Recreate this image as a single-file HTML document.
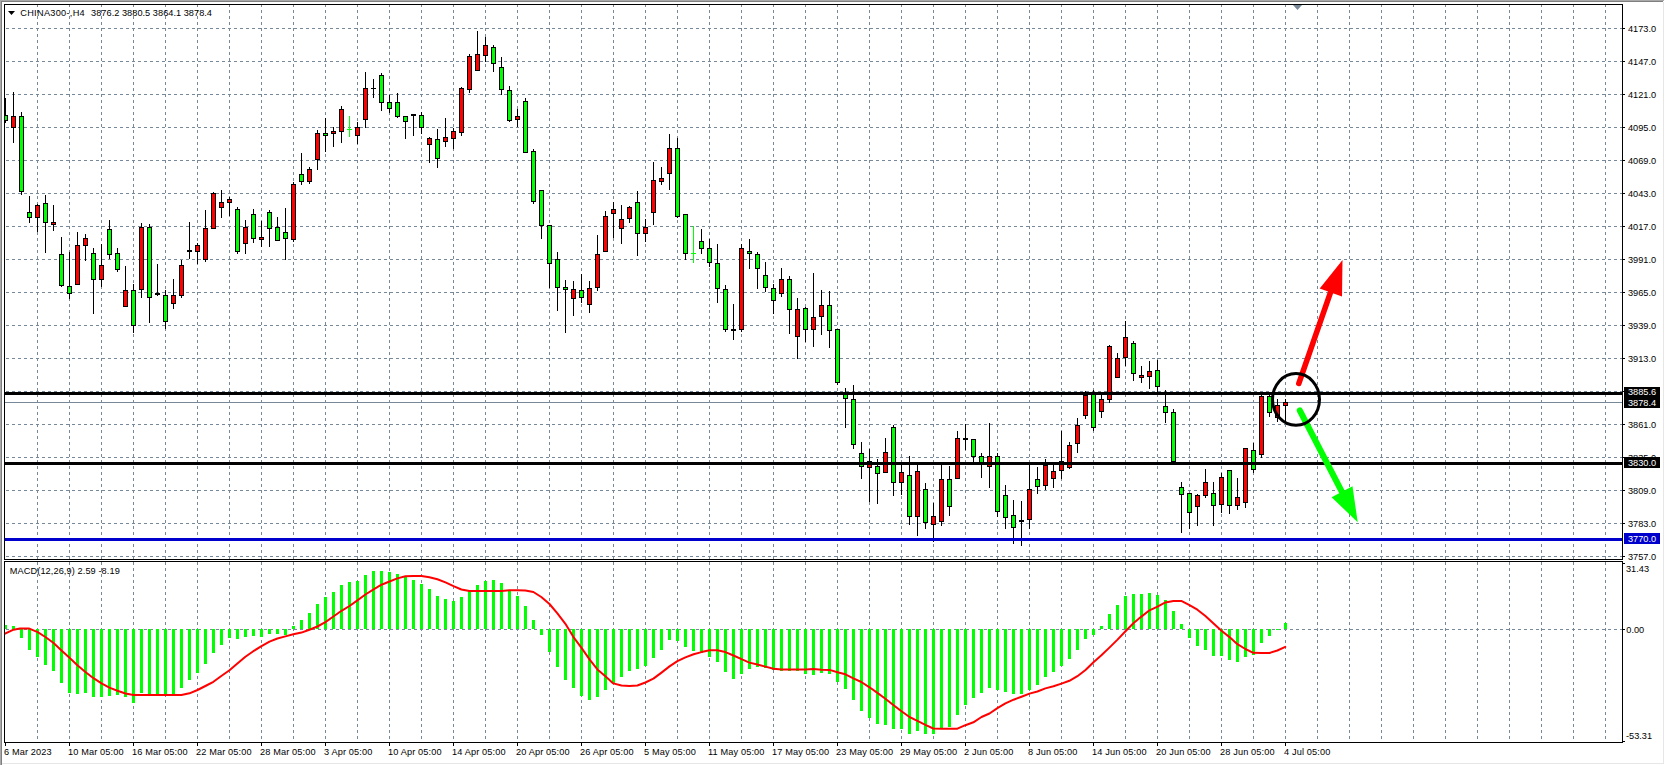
<!DOCTYPE html>
<html><head><meta charset="utf-8"><title>CHINA300 H4</title>
<style>html,body{margin:0;padding:0;background:#fff;}body{width:1665px;height:765px;overflow:hidden;}svg{display:block;font-family:"Liberation Sans",sans-serif;}text{font-family:"Liberation Sans",sans-serif;font-size:9.2px;fill:#000;}.w{fill:#fff;}</style>
</head><body>
<svg width="1665" height="765" viewBox="0 0 1665 765">
<rect x="0" y="0" width="1665" height="765" fill="#ffffff"/>
<g shape-rendering="crispEdges">
<rect x="0" y="0" width="1664" height="1" fill="#a9a9a9"/>
<rect x="0" y="1" width="1663" height="1" fill="#7f7f7f"/>
<rect x="0" y="0" width="1" height="765" fill="#a9a9a9"/>
<rect x="1" y="1" width="1" height="765" fill="#7f7f7f"/>
<rect x="1663" y="2" width="1" height="762" fill="#e6e6e6"/>
<rect x="2" y="763" width="1662" height="1" fill="#e6e6e6"/>
<g stroke="#778899" stroke-width="1" fill="none">
<line x1="37.5" y1="4" x2="37.5" y2="559" stroke-dasharray="3 3"/>
<line x1="37.5" y1="562" x2="37.5" y2="742" stroke-dasharray="3 3" stroke-dashoffset="0"/>
<line x1="69.5" y1="4" x2="69.5" y2="559" stroke-dasharray="3 3"/>
<line x1="69.5" y1="562" x2="69.5" y2="742" stroke-dasharray="3 3" stroke-dashoffset="0"/>
<line x1="101.5" y1="4" x2="101.5" y2="559" stroke-dasharray="3 3"/>
<line x1="101.5" y1="562" x2="101.5" y2="742" stroke-dasharray="3 3" stroke-dashoffset="0"/>
<line x1="133.5" y1="4" x2="133.5" y2="559" stroke-dasharray="3 3"/>
<line x1="133.5" y1="562" x2="133.5" y2="742" stroke-dasharray="3 3" stroke-dashoffset="0"/>
<line x1="165.5" y1="4" x2="165.5" y2="559" stroke-dasharray="3 3"/>
<line x1="165.5" y1="562" x2="165.5" y2="742" stroke-dasharray="3 3" stroke-dashoffset="0"/>
<line x1="197.5" y1="4" x2="197.5" y2="559" stroke-dasharray="3 3"/>
<line x1="197.5" y1="562" x2="197.5" y2="742" stroke-dasharray="3 3" stroke-dashoffset="0"/>
<line x1="229.5" y1="4" x2="229.5" y2="559" stroke-dasharray="3 3"/>
<line x1="229.5" y1="562" x2="229.5" y2="742" stroke-dasharray="3 3" stroke-dashoffset="0"/>
<line x1="261.5" y1="4" x2="261.5" y2="559" stroke-dasharray="3 3"/>
<line x1="261.5" y1="562" x2="261.5" y2="742" stroke-dasharray="3 3" stroke-dashoffset="0"/>
<line x1="293.5" y1="4" x2="293.5" y2="559" stroke-dasharray="3 3"/>
<line x1="293.5" y1="562" x2="293.5" y2="742" stroke-dasharray="3 3" stroke-dashoffset="0"/>
<line x1="325.5" y1="4" x2="325.5" y2="559" stroke-dasharray="3 3"/>
<line x1="325.5" y1="562" x2="325.5" y2="742" stroke-dasharray="3 3" stroke-dashoffset="0"/>
<line x1="357.5" y1="4" x2="357.5" y2="559" stroke-dasharray="3 3"/>
<line x1="357.5" y1="562" x2="357.5" y2="742" stroke-dasharray="3 3" stroke-dashoffset="0"/>
<line x1="389.5" y1="4" x2="389.5" y2="559" stroke-dasharray="3 3"/>
<line x1="389.5" y1="562" x2="389.5" y2="742" stroke-dasharray="3 3" stroke-dashoffset="0"/>
<line x1="421.5" y1="4" x2="421.5" y2="559" stroke-dasharray="3 3"/>
<line x1="421.5" y1="562" x2="421.5" y2="742" stroke-dasharray="3 3" stroke-dashoffset="0"/>
<line x1="453.5" y1="4" x2="453.5" y2="559" stroke-dasharray="3 3"/>
<line x1="453.5" y1="562" x2="453.5" y2="742" stroke-dasharray="3 3" stroke-dashoffset="0"/>
<line x1="485.5" y1="4" x2="485.5" y2="559" stroke-dasharray="3 3"/>
<line x1="485.5" y1="562" x2="485.5" y2="742" stroke-dasharray="3 3" stroke-dashoffset="0"/>
<line x1="517.5" y1="4" x2="517.5" y2="559" stroke-dasharray="3 3"/>
<line x1="517.5" y1="562" x2="517.5" y2="742" stroke-dasharray="3 3" stroke-dashoffset="0"/>
<line x1="549.5" y1="4" x2="549.5" y2="559" stroke-dasharray="3 3"/>
<line x1="549.5" y1="562" x2="549.5" y2="742" stroke-dasharray="3 3" stroke-dashoffset="0"/>
<line x1="581.5" y1="4" x2="581.5" y2="559" stroke-dasharray="3 3"/>
<line x1="581.5" y1="562" x2="581.5" y2="742" stroke-dasharray="3 3" stroke-dashoffset="0"/>
<line x1="613.5" y1="4" x2="613.5" y2="559" stroke-dasharray="3 3"/>
<line x1="613.5" y1="562" x2="613.5" y2="742" stroke-dasharray="3 3" stroke-dashoffset="0"/>
<line x1="645.5" y1="4" x2="645.5" y2="559" stroke-dasharray="3 3"/>
<line x1="645.5" y1="562" x2="645.5" y2="742" stroke-dasharray="3 3" stroke-dashoffset="0"/>
<line x1="677.5" y1="4" x2="677.5" y2="559" stroke-dasharray="3 3"/>
<line x1="677.5" y1="562" x2="677.5" y2="742" stroke-dasharray="3 3" stroke-dashoffset="0"/>
<line x1="709.5" y1="4" x2="709.5" y2="559" stroke-dasharray="3 3"/>
<line x1="709.5" y1="562" x2="709.5" y2="742" stroke-dasharray="3 3" stroke-dashoffset="0"/>
<line x1="741.5" y1="4" x2="741.5" y2="559" stroke-dasharray="3 3"/>
<line x1="741.5" y1="562" x2="741.5" y2="742" stroke-dasharray="3 3" stroke-dashoffset="0"/>
<line x1="773.5" y1="4" x2="773.5" y2="559" stroke-dasharray="3 3"/>
<line x1="773.5" y1="562" x2="773.5" y2="742" stroke-dasharray="3 3" stroke-dashoffset="0"/>
<line x1="805.5" y1="4" x2="805.5" y2="559" stroke-dasharray="3 3"/>
<line x1="805.5" y1="562" x2="805.5" y2="742" stroke-dasharray="3 3" stroke-dashoffset="0"/>
<line x1="837.5" y1="4" x2="837.5" y2="559" stroke-dasharray="3 3"/>
<line x1="837.5" y1="562" x2="837.5" y2="742" stroke-dasharray="3 3" stroke-dashoffset="0"/>
<line x1="869.5" y1="4" x2="869.5" y2="559" stroke-dasharray="3 3"/>
<line x1="869.5" y1="562" x2="869.5" y2="742" stroke-dasharray="3 3" stroke-dashoffset="0"/>
<line x1="901.5" y1="4" x2="901.5" y2="559" stroke-dasharray="3 3"/>
<line x1="901.5" y1="562" x2="901.5" y2="742" stroke-dasharray="3 3" stroke-dashoffset="0"/>
<line x1="933.5" y1="4" x2="933.5" y2="559" stroke-dasharray="3 3"/>
<line x1="933.5" y1="562" x2="933.5" y2="742" stroke-dasharray="3 3" stroke-dashoffset="0"/>
<line x1="965.5" y1="4" x2="965.5" y2="559" stroke-dasharray="3 3"/>
<line x1="965.5" y1="562" x2="965.5" y2="742" stroke-dasharray="3 3" stroke-dashoffset="0"/>
<line x1="997.5" y1="4" x2="997.5" y2="559" stroke-dasharray="3 3"/>
<line x1="997.5" y1="562" x2="997.5" y2="742" stroke-dasharray="3 3" stroke-dashoffset="0"/>
<line x1="1029.5" y1="4" x2="1029.5" y2="559" stroke-dasharray="3 3"/>
<line x1="1029.5" y1="562" x2="1029.5" y2="742" stroke-dasharray="3 3" stroke-dashoffset="0"/>
<line x1="1061.5" y1="4" x2="1061.5" y2="559" stroke-dasharray="3 3"/>
<line x1="1061.5" y1="562" x2="1061.5" y2="742" stroke-dasharray="3 3" stroke-dashoffset="0"/>
<line x1="1093.5" y1="4" x2="1093.5" y2="559" stroke-dasharray="3 3"/>
<line x1="1093.5" y1="562" x2="1093.5" y2="742" stroke-dasharray="3 3" stroke-dashoffset="0"/>
<line x1="1125.5" y1="4" x2="1125.5" y2="559" stroke-dasharray="3 3"/>
<line x1="1125.5" y1="562" x2="1125.5" y2="742" stroke-dasharray="3 3" stroke-dashoffset="0"/>
<line x1="1157.5" y1="4" x2="1157.5" y2="559" stroke-dasharray="3 3"/>
<line x1="1157.5" y1="562" x2="1157.5" y2="742" stroke-dasharray="3 3" stroke-dashoffset="0"/>
<line x1="1189.5" y1="4" x2="1189.5" y2="559" stroke-dasharray="3 3"/>
<line x1="1189.5" y1="562" x2="1189.5" y2="742" stroke-dasharray="3 3" stroke-dashoffset="0"/>
<line x1="1221.5" y1="4" x2="1221.5" y2="559" stroke-dasharray="3 3"/>
<line x1="1221.5" y1="562" x2="1221.5" y2="742" stroke-dasharray="3 3" stroke-dashoffset="0"/>
<line x1="1253.5" y1="4" x2="1253.5" y2="559" stroke-dasharray="3 3"/>
<line x1="1253.5" y1="562" x2="1253.5" y2="742" stroke-dasharray="3 3" stroke-dashoffset="0"/>
<line x1="1285.5" y1="4" x2="1285.5" y2="559" stroke-dasharray="3 3"/>
<line x1="1285.5" y1="562" x2="1285.5" y2="742" stroke-dasharray="3 3" stroke-dashoffset="0"/>
<line x1="1317.5" y1="4" x2="1317.5" y2="559" stroke-dasharray="3 3"/>
<line x1="1317.5" y1="562" x2="1317.5" y2="742" stroke-dasharray="3 3" stroke-dashoffset="0"/>
<line x1="1349.5" y1="4" x2="1349.5" y2="559" stroke-dasharray="3 3"/>
<line x1="1349.5" y1="562" x2="1349.5" y2="742" stroke-dasharray="3 3" stroke-dashoffset="0"/>
<line x1="1381.5" y1="4" x2="1381.5" y2="559" stroke-dasharray="3 3"/>
<line x1="1381.5" y1="562" x2="1381.5" y2="742" stroke-dasharray="3 3" stroke-dashoffset="0"/>
<line x1="1413.5" y1="4" x2="1413.5" y2="559" stroke-dasharray="3 3"/>
<line x1="1413.5" y1="562" x2="1413.5" y2="742" stroke-dasharray="3 3" stroke-dashoffset="0"/>
<line x1="1445.5" y1="4" x2="1445.5" y2="559" stroke-dasharray="3 3"/>
<line x1="1445.5" y1="562" x2="1445.5" y2="742" stroke-dasharray="3 3" stroke-dashoffset="0"/>
<line x1="1477.5" y1="4" x2="1477.5" y2="559" stroke-dasharray="3 3"/>
<line x1="1477.5" y1="562" x2="1477.5" y2="742" stroke-dasharray="3 3" stroke-dashoffset="0"/>
<line x1="1509.5" y1="4" x2="1509.5" y2="559" stroke-dasharray="3 3"/>
<line x1="1509.5" y1="562" x2="1509.5" y2="742" stroke-dasharray="3 3" stroke-dashoffset="0"/>
<line x1="1541.5" y1="4" x2="1541.5" y2="559" stroke-dasharray="3 3"/>
<line x1="1541.5" y1="562" x2="1541.5" y2="742" stroke-dasharray="3 3" stroke-dashoffset="0"/>
<line x1="1573.5" y1="4" x2="1573.5" y2="559" stroke-dasharray="3 3"/>
<line x1="1573.5" y1="562" x2="1573.5" y2="742" stroke-dasharray="3 3" stroke-dashoffset="0"/>
<line x1="1605.5" y1="4" x2="1605.5" y2="559" stroke-dasharray="3 3"/>
<line x1="1605.5" y1="562" x2="1605.5" y2="742" stroke-dasharray="3 3" stroke-dashoffset="0"/>
<line x1="6" y1="28.5" x2="1622" y2="28.5" stroke-dasharray="3 3"/>
<line x1="6" y1="61.5" x2="1622" y2="61.5" stroke-dasharray="3 3"/>
<line x1="6" y1="94.5" x2="1622" y2="94.5" stroke-dasharray="3 3"/>
<line x1="6" y1="127.5" x2="1622" y2="127.5" stroke-dasharray="3 3"/>
<line x1="6" y1="160.5" x2="1622" y2="160.5" stroke-dasharray="3 3"/>
<line x1="6" y1="193.5" x2="1622" y2="193.5" stroke-dasharray="3 3"/>
<line x1="6" y1="226.5" x2="1622" y2="226.5" stroke-dasharray="3 3"/>
<line x1="6" y1="259.5" x2="1622" y2="259.5" stroke-dasharray="3 3"/>
<line x1="6" y1="292.5" x2="1622" y2="292.5" stroke-dasharray="3 3"/>
<line x1="6" y1="325.5" x2="1622" y2="325.5" stroke-dasharray="3 3"/>
<line x1="6" y1="358.5" x2="1622" y2="358.5" stroke-dasharray="3 3"/>
<line x1="6" y1="391.5" x2="1622" y2="391.5" stroke-dasharray="3 3"/>
<line x1="6" y1="424.5" x2="1622" y2="424.5" stroke-dasharray="3 3"/>
<line x1="6" y1="457.5" x2="1622" y2="457.5" stroke-dasharray="3 3"/>
<line x1="6" y1="490.5" x2="1622" y2="490.5" stroke-dasharray="3 3"/>
<line x1="6" y1="523.5" x2="1622" y2="523.5" stroke-dasharray="3 3"/>
<line x1="6" y1="556.5" x2="1622" y2="556.5" stroke-dasharray="3 3"/>
<line x1="6" y1="629.5" x2="1622" y2="629.5" stroke-dasharray="3 3"/>
</g>
<rect x="5" y="402" width="1617" height="1" fill="#778899"/>
<rect x="4" y="4" width="1619" height="1" fill="#000"/>
<rect x="4" y="4" width="1" height="739" fill="#000"/>
<rect x="1622" y="4" width="1" height="739" fill="#000"/>
<rect x="4" y="559" width="1619" height="1" fill="#000"/>
<rect x="4" y="561" width="1619" height="1" fill="#000"/>
<rect x="4" y="560" width="1619" height="1" fill="#fff"/>
<rect x="4" y="742" width="1619" height="1" fill="#000"/>
<rect x="1623" y="28" width="2" height="1" fill="#000"/>
<rect x="1623" y="61" width="2" height="1" fill="#000"/>
<rect x="1623" y="94" width="2" height="1" fill="#000"/>
<rect x="1623" y="127" width="2" height="1" fill="#000"/>
<rect x="1623" y="160" width="2" height="1" fill="#000"/>
<rect x="1623" y="193" width="2" height="1" fill="#000"/>
<rect x="1623" y="226" width="2" height="1" fill="#000"/>
<rect x="1623" y="259" width="2" height="1" fill="#000"/>
<rect x="1623" y="292" width="2" height="1" fill="#000"/>
<rect x="1623" y="325" width="2" height="1" fill="#000"/>
<rect x="1623" y="358" width="2" height="1" fill="#000"/>
<rect x="1623" y="391" width="2" height="1" fill="#000"/>
<rect x="1623" y="424" width="2" height="1" fill="#000"/>
<rect x="1623" y="457" width="2" height="1" fill="#000"/>
<rect x="1623" y="490" width="2" height="1" fill="#000"/>
<rect x="1623" y="523" width="2" height="1" fill="#000"/>
<rect x="1623" y="556" width="2" height="1" fill="#000"/>
<rect x="1623" y="563" width="2" height="1" fill="#000"/>
<rect x="1623" y="629" width="2" height="1" fill="#000"/>
<rect x="1623" y="741" width="2" height="1" fill="#000"/>
<rect x="5" y="743" width="1" height="3" fill="#000"/>
<rect x="69" y="743" width="1" height="3" fill="#000"/>
<rect x="133" y="743" width="1" height="3" fill="#000"/>
<rect x="197" y="743" width="1" height="3" fill="#000"/>
<rect x="261" y="743" width="1" height="3" fill="#000"/>
<rect x="325" y="743" width="1" height="3" fill="#000"/>
<rect x="389" y="743" width="1" height="3" fill="#000"/>
<rect x="453" y="743" width="1" height="3" fill="#000"/>
<rect x="517" y="743" width="1" height="3" fill="#000"/>
<rect x="581" y="743" width="1" height="3" fill="#000"/>
<rect x="645" y="743" width="1" height="3" fill="#000"/>
<rect x="709" y="743" width="1" height="3" fill="#000"/>
<rect x="773" y="743" width="1" height="3" fill="#000"/>
<rect x="837" y="743" width="1" height="3" fill="#000"/>
<rect x="901" y="743" width="1" height="3" fill="#000"/>
<rect x="965" y="743" width="1" height="3" fill="#000"/>
<rect x="1029" y="743" width="1" height="3" fill="#000"/>
<rect x="1093" y="743" width="1" height="3" fill="#000"/>
<rect x="1157" y="743" width="1" height="3" fill="#000"/>
<rect x="1221" y="743" width="1" height="3" fill="#000"/>
<rect x="1285" y="743" width="1" height="3" fill="#000"/>
<polygon points="1293,5 1302,5 1297.5,10" fill="#778899" shape-rendering="auto"/>
</g>
<defs><clipPath id="c"><rect x="5" y="5" width="1617" height="554"/></clipPath><clipPath id="m"><rect x="5" y="562" width="1617" height="180"/></clipPath></defs>
<g clip-path="url(#c)" shape-rendering="crispEdges">
<rect x="5" y="98" width="1" height="25" fill="#000"/>
<rect x="3" y="115" width="5" height="6" fill="#000"/>
<rect x="4" y="116" width="3" height="4" fill="#00ff00"/>
<rect x="13" y="92" width="1" height="51" fill="#000"/>
<rect x="11" y="116" width="5" height="12" fill="#000"/>
<rect x="12" y="117" width="3" height="10" fill="#ff0000"/>
<rect x="21" y="112" width="1" height="83" fill="#000"/>
<rect x="19" y="116" width="5" height="76" fill="#000"/>
<rect x="20" y="117" width="3" height="74" fill="#00ff00"/>
<rect x="29" y="196" width="1" height="27" fill="#000"/>
<rect x="27" y="212" width="5" height="6" fill="#000"/>
<rect x="28" y="213" width="3" height="4" fill="#00ff00"/>
<rect x="37" y="204" width="1" height="28" fill="#000"/>
<rect x="35" y="205" width="5" height="13" fill="#000"/>
<rect x="36" y="206" width="3" height="11" fill="#ff0000"/>
<rect x="45" y="195" width="1" height="58" fill="#000"/>
<rect x="43" y="203" width="5" height="20" fill="#000"/>
<rect x="44" y="204" width="3" height="18" fill="#00ff00"/>
<rect x="53" y="205" width="1" height="26" fill="#000"/>
<rect x="51" y="222" width="5" height="3" fill="#000"/>
<rect x="52" y="223" width="3" height="1" fill="#ff0000"/>
<rect x="61" y="237" width="1" height="50" fill="#000"/>
<rect x="59" y="254" width="5" height="32" fill="#000"/>
<rect x="60" y="255" width="3" height="30" fill="#00ff00"/>
<rect x="69" y="252" width="1" height="47" fill="#000"/>
<rect x="67" y="286" width="5" height="8" fill="#000"/>
<rect x="68" y="287" width="3" height="6" fill="#00ff00"/>
<rect x="77" y="232" width="1" height="53" fill="#000"/>
<rect x="75" y="245" width="5" height="40" fill="#000"/>
<rect x="76" y="246" width="3" height="38" fill="#ff0000"/>
<rect x="85" y="234" width="1" height="27" fill="#000"/>
<rect x="83" y="238" width="5" height="8" fill="#000"/>
<rect x="84" y="239" width="3" height="6" fill="#ff0000"/>
<rect x="93" y="248" width="1" height="66" fill="#000"/>
<rect x="91" y="253" width="5" height="27" fill="#000"/>
<rect x="92" y="254" width="3" height="25" fill="#00ff00"/>
<rect x="101" y="244" width="1" height="43" fill="#000"/>
<rect x="99" y="265" width="5" height="15" fill="#000"/>
<rect x="100" y="266" width="3" height="13" fill="#ff0000"/>
<rect x="109" y="220" width="1" height="39" fill="#000"/>
<rect x="107" y="229" width="5" height="26" fill="#000"/>
<rect x="108" y="230" width="3" height="24" fill="#00ff00"/>
<rect x="117" y="248" width="1" height="24" fill="#000"/>
<rect x="115" y="253" width="5" height="17" fill="#000"/>
<rect x="116" y="254" width="3" height="15" fill="#00ff00"/>
<rect x="125" y="266" width="1" height="41" fill="#000"/>
<rect x="123" y="290" width="5" height="17" fill="#000"/>
<rect x="124" y="291" width="3" height="15" fill="#ff0000"/>
<rect x="133" y="284" width="1" height="49" fill="#000"/>
<rect x="131" y="290" width="5" height="36" fill="#000"/>
<rect x="132" y="291" width="3" height="34" fill="#00ff00"/>
<rect x="141" y="223" width="1" height="75" fill="#000"/>
<rect x="139" y="227" width="5" height="63" fill="#000"/>
<rect x="140" y="228" width="3" height="61" fill="#ff0000"/>
<rect x="149" y="224" width="1" height="99" fill="#000"/>
<rect x="147" y="227" width="5" height="71" fill="#000"/>
<rect x="148" y="228" width="3" height="69" fill="#00ff00"/>
<rect x="157" y="264" width="1" height="32" fill="#000"/>
<rect x="155" y="293" width="5" height="2" fill="#000"/>
<rect x="165" y="290" width="1" height="39" fill="#000"/>
<rect x="163" y="295" width="5" height="27" fill="#000"/>
<rect x="164" y="296" width="3" height="25" fill="#00ff00"/>
<rect x="173" y="279" width="1" height="30" fill="#000"/>
<rect x="171" y="295" width="5" height="9" fill="#000"/>
<rect x="172" y="296" width="3" height="7" fill="#ff0000"/>
<rect x="181" y="260" width="1" height="38" fill="#000"/>
<rect x="179" y="265" width="5" height="31" fill="#000"/>
<rect x="180" y="266" width="3" height="29" fill="#ff0000"/>
<rect x="189" y="222" width="1" height="37" fill="#000"/>
<rect x="187" y="250" width="5" height="2" fill="#000"/>
<rect x="197" y="243" width="1" height="21" fill="#000"/>
<rect x="195" y="245" width="5" height="7" fill="#000"/>
<rect x="196" y="246" width="3" height="5" fill="#ff0000"/>
<rect x="205" y="210" width="1" height="52" fill="#000"/>
<rect x="203" y="228" width="5" height="32" fill="#000"/>
<rect x="204" y="229" width="3" height="30" fill="#ff0000"/>
<rect x="213" y="192" width="1" height="37" fill="#000"/>
<rect x="211" y="193" width="5" height="36" fill="#000"/>
<rect x="212" y="194" width="3" height="34" fill="#ff0000"/>
<rect x="221" y="190" width="1" height="28" fill="#000"/>
<rect x="219" y="202" width="5" height="6" fill="#000"/>
<rect x="220" y="203" width="3" height="4" fill="#ff0000"/>
<rect x="229" y="197" width="1" height="19" fill="#000"/>
<rect x="227" y="199" width="5" height="4" fill="#000"/>
<rect x="228" y="200" width="3" height="2" fill="#ff0000"/>
<rect x="237" y="207" width="1" height="47" fill="#000"/>
<rect x="235" y="209" width="5" height="43" fill="#000"/>
<rect x="236" y="210" width="3" height="41" fill="#00ff00"/>
<rect x="245" y="220" width="1" height="34" fill="#000"/>
<rect x="243" y="227" width="5" height="17" fill="#000"/>
<rect x="244" y="228" width="3" height="15" fill="#ff0000"/>
<rect x="253" y="209" width="1" height="34" fill="#000"/>
<rect x="251" y="214" width="5" height="25" fill="#000"/>
<rect x="252" y="215" width="3" height="23" fill="#00ff00"/>
<rect x="261" y="221" width="1" height="26" fill="#000"/>
<rect x="259" y="237" width="5" height="3" fill="#000"/>
<rect x="260" y="238" width="3" height="1" fill="#ff0000"/>
<rect x="269" y="210" width="1" height="37" fill="#000"/>
<rect x="267" y="212" width="5" height="17" fill="#000"/>
<rect x="268" y="213" width="3" height="15" fill="#00ff00"/>
<rect x="277" y="217" width="1" height="24" fill="#000"/>
<rect x="275" y="227" width="5" height="14" fill="#000"/>
<rect x="276" y="228" width="3" height="12" fill="#00ff00"/>
<rect x="285" y="208" width="1" height="52" fill="#000"/>
<rect x="283" y="232" width="5" height="7" fill="#000"/>
<rect x="284" y="233" width="3" height="5" fill="#00ff00"/>
<rect x="293" y="182" width="1" height="60" fill="#000"/>
<rect x="291" y="184" width="5" height="56" fill="#000"/>
<rect x="292" y="185" width="3" height="54" fill="#ff0000"/>
<rect x="301" y="153" width="1" height="32" fill="#000"/>
<rect x="299" y="174" width="5" height="8" fill="#000"/>
<rect x="300" y="175" width="3" height="6" fill="#00ff00"/>
<rect x="309" y="167" width="1" height="17" fill="#000"/>
<rect x="307" y="169" width="5" height="13" fill="#000"/>
<rect x="308" y="170" width="3" height="11" fill="#ff0000"/>
<rect x="317" y="130" width="1" height="40" fill="#000"/>
<rect x="315" y="133" width="5" height="27" fill="#000"/>
<rect x="316" y="134" width="3" height="25" fill="#ff0000"/>
<rect x="325" y="118" width="1" height="34" fill="#000"/>
<rect x="323" y="133" width="5" height="3" fill="#000"/>
<rect x="324" y="134" width="3" height="1" fill="#00ff00"/>
<rect x="333" y="127" width="1" height="20" fill="#000"/>
<rect x="331" y="131" width="5" height="3" fill="#000"/>
<rect x="332" y="132" width="3" height="1" fill="#ff0000"/>
<rect x="341" y="106" width="1" height="37" fill="#000"/>
<rect x="339" y="109" width="5" height="23" fill="#000"/>
<rect x="340" y="110" width="3" height="21" fill="#ff0000"/>
<rect x="349" y="116" width="1" height="21" fill="#00ff00"/>
<rect x="347" y="129" width="5" height="1" fill="#00ff00"/>
<rect x="357" y="122" width="1" height="22" fill="#000"/>
<rect x="355" y="127" width="5" height="9" fill="#000"/>
<rect x="356" y="128" width="3" height="7" fill="#ff0000"/>
<rect x="365" y="72" width="1" height="56" fill="#000"/>
<rect x="363" y="88" width="5" height="32" fill="#000"/>
<rect x="364" y="89" width="3" height="30" fill="#ff0000"/>
<rect x="373" y="79" width="1" height="19" fill="#000"/>
<rect x="371" y="88" width="5" height="1" fill="#000"/>
<rect x="381" y="73" width="1" height="38" fill="#000"/>
<rect x="379" y="75" width="5" height="28" fill="#000"/>
<rect x="380" y="76" width="3" height="26" fill="#00ff00"/>
<rect x="389" y="95" width="1" height="18" fill="#000"/>
<rect x="387" y="102" width="5" height="7" fill="#000"/>
<rect x="388" y="103" width="3" height="5" fill="#00ff00"/>
<rect x="397" y="93" width="1" height="25" fill="#000"/>
<rect x="395" y="102" width="5" height="15" fill="#000"/>
<rect x="396" y="103" width="3" height="13" fill="#00ff00"/>
<rect x="405" y="116" width="1" height="23" fill="#000"/>
<rect x="403" y="116" width="5" height="6" fill="#000"/>
<rect x="404" y="117" width="3" height="4" fill="#00ff00"/>
<rect x="413" y="114" width="1" height="22" fill="#000"/>
<rect x="411" y="114" width="5" height="2" fill="#000"/>
<rect x="421" y="112" width="1" height="22" fill="#000"/>
<rect x="419" y="115" width="5" height="13" fill="#000"/>
<rect x="420" y="116" width="3" height="11" fill="#00ff00"/>
<rect x="429" y="137" width="1" height="26" fill="#000"/>
<rect x="427" y="138" width="5" height="7" fill="#000"/>
<rect x="428" y="139" width="3" height="5" fill="#ff0000"/>
<rect x="437" y="129" width="1" height="39" fill="#000"/>
<rect x="435" y="139" width="5" height="20" fill="#000"/>
<rect x="436" y="140" width="3" height="18" fill="#00ff00"/>
<rect x="445" y="118" width="1" height="29" fill="#000"/>
<rect x="443" y="137" width="5" height="5" fill="#000"/>
<rect x="444" y="138" width="3" height="3" fill="#ff0000"/>
<rect x="453" y="128" width="1" height="21" fill="#000"/>
<rect x="451" y="131" width="5" height="8" fill="#000"/>
<rect x="452" y="132" width="3" height="6" fill="#ff0000"/>
<rect x="461" y="87" width="1" height="49" fill="#000"/>
<rect x="459" y="88" width="5" height="45" fill="#000"/>
<rect x="460" y="89" width="3" height="43" fill="#ff0000"/>
<rect x="469" y="54" width="1" height="39" fill="#000"/>
<rect x="467" y="56" width="5" height="34" fill="#000"/>
<rect x="468" y="57" width="3" height="32" fill="#ff0000"/>
<rect x="477" y="31" width="1" height="40" fill="#000"/>
<rect x="475" y="54" width="5" height="17" fill="#000"/>
<rect x="476" y="55" width="3" height="15" fill="#ff0000"/>
<rect x="485" y="37" width="1" height="25" fill="#000"/>
<rect x="483" y="45" width="5" height="11" fill="#000"/>
<rect x="484" y="46" width="3" height="9" fill="#ff0000"/>
<rect x="493" y="45" width="1" height="27" fill="#000"/>
<rect x="491" y="47" width="5" height="17" fill="#000"/>
<rect x="492" y="48" width="3" height="15" fill="#00ff00"/>
<rect x="501" y="57" width="1" height="38" fill="#000"/>
<rect x="499" y="67" width="5" height="23" fill="#000"/>
<rect x="500" y="68" width="3" height="21" fill="#00ff00"/>
<rect x="509" y="86" width="1" height="36" fill="#000"/>
<rect x="507" y="90" width="5" height="31" fill="#000"/>
<rect x="508" y="91" width="3" height="29" fill="#00ff00"/>
<rect x="517" y="109" width="1" height="18" fill="#000"/>
<rect x="515" y="116" width="5" height="4" fill="#000"/>
<rect x="516" y="117" width="3" height="2" fill="#ff0000"/>
<rect x="525" y="98" width="1" height="55" fill="#000"/>
<rect x="523" y="101" width="5" height="52" fill="#000"/>
<rect x="524" y="102" width="3" height="50" fill="#00ff00"/>
<rect x="533" y="149" width="1" height="55" fill="#000"/>
<rect x="531" y="151" width="5" height="51" fill="#000"/>
<rect x="532" y="152" width="3" height="49" fill="#00ff00"/>
<rect x="541" y="190" width="1" height="49" fill="#000"/>
<rect x="539" y="190" width="5" height="36" fill="#000"/>
<rect x="540" y="191" width="3" height="34" fill="#00ff00"/>
<rect x="549" y="225" width="1" height="63" fill="#000"/>
<rect x="547" y="225" width="5" height="39" fill="#000"/>
<rect x="548" y="226" width="3" height="37" fill="#00ff00"/>
<rect x="557" y="252" width="1" height="59" fill="#000"/>
<rect x="555" y="259" width="5" height="29" fill="#000"/>
<rect x="556" y="260" width="3" height="27" fill="#00ff00"/>
<rect x="565" y="280" width="1" height="53" fill="#000"/>
<rect x="563" y="287" width="5" height="3" fill="#000"/>
<rect x="564" y="288" width="3" height="1" fill="#00ff00"/>
<rect x="573" y="281" width="1" height="35" fill="#000"/>
<rect x="571" y="289" width="5" height="10" fill="#000"/>
<rect x="572" y="290" width="3" height="8" fill="#ff0000"/>
<rect x="581" y="274" width="1" height="29" fill="#000"/>
<rect x="579" y="290" width="5" height="8" fill="#000"/>
<rect x="580" y="291" width="3" height="6" fill="#00ff00"/>
<rect x="589" y="281" width="1" height="32" fill="#000"/>
<rect x="587" y="288" width="5" height="17" fill="#000"/>
<rect x="588" y="289" width="3" height="15" fill="#ff0000"/>
<rect x="597" y="235" width="1" height="56" fill="#000"/>
<rect x="595" y="254" width="5" height="34" fill="#000"/>
<rect x="596" y="255" width="3" height="32" fill="#ff0000"/>
<rect x="605" y="211" width="1" height="41" fill="#000"/>
<rect x="603" y="216" width="5" height="36" fill="#000"/>
<rect x="604" y="217" width="3" height="34" fill="#ff0000"/>
<rect x="613" y="202" width="1" height="36" fill="#000"/>
<rect x="611" y="209" width="5" height="5" fill="#000"/>
<rect x="612" y="210" width="3" height="3" fill="#ff0000"/>
<rect x="621" y="205" width="1" height="39" fill="#000"/>
<rect x="619" y="219" width="5" height="10" fill="#000"/>
<rect x="620" y="220" width="3" height="8" fill="#ff0000"/>
<rect x="629" y="206" width="1" height="17" fill="#000"/>
<rect x="627" y="207" width="5" height="12" fill="#000"/>
<rect x="628" y="208" width="3" height="10" fill="#ff0000"/>
<rect x="637" y="191" width="1" height="65" fill="#000"/>
<rect x="635" y="202" width="5" height="32" fill="#000"/>
<rect x="636" y="203" width="3" height="30" fill="#00ff00"/>
<rect x="645" y="219" width="1" height="23" fill="#000"/>
<rect x="643" y="227" width="5" height="7" fill="#000"/>
<rect x="644" y="228" width="3" height="5" fill="#ff0000"/>
<rect x="653" y="162" width="1" height="63" fill="#000"/>
<rect x="651" y="180" width="5" height="33" fill="#000"/>
<rect x="652" y="181" width="3" height="31" fill="#ff0000"/>
<rect x="661" y="167" width="1" height="18" fill="#000"/>
<rect x="659" y="178" width="5" height="4" fill="#000"/>
<rect x="660" y="179" width="3" height="2" fill="#ff0000"/>
<rect x="669" y="134" width="1" height="56" fill="#000"/>
<rect x="667" y="148" width="5" height="26" fill="#000"/>
<rect x="668" y="149" width="3" height="24" fill="#ff0000"/>
<rect x="677" y="138" width="1" height="80" fill="#000"/>
<rect x="675" y="148" width="5" height="69" fill="#000"/>
<rect x="676" y="149" width="3" height="67" fill="#00ff00"/>
<rect x="685" y="214" width="1" height="46" fill="#000"/>
<rect x="683" y="214" width="5" height="40" fill="#000"/>
<rect x="684" y="215" width="3" height="38" fill="#00ff00"/>
<rect x="693" y="226" width="1" height="37" fill="#00ff00"/>
<rect x="691" y="253" width="5" height="1" fill="#00ff00"/>
<rect x="701" y="229" width="1" height="25" fill="#000"/>
<rect x="699" y="241" width="5" height="8" fill="#000"/>
<rect x="700" y="242" width="3" height="6" fill="#00ff00"/>
<rect x="709" y="239" width="1" height="28" fill="#000"/>
<rect x="707" y="248" width="5" height="15" fill="#000"/>
<rect x="708" y="249" width="3" height="13" fill="#00ff00"/>
<rect x="717" y="244" width="1" height="59" fill="#000"/>
<rect x="715" y="263" width="5" height="26" fill="#000"/>
<rect x="716" y="264" width="3" height="24" fill="#00ff00"/>
<rect x="725" y="285" width="1" height="47" fill="#000"/>
<rect x="723" y="289" width="5" height="41" fill="#000"/>
<rect x="724" y="290" width="3" height="39" fill="#00ff00"/>
<rect x="733" y="304" width="1" height="36" fill="#000"/>
<rect x="731" y="329" width="5" height="2" fill="#000"/>
<rect x="741" y="244" width="1" height="88" fill="#000"/>
<rect x="739" y="248" width="5" height="82" fill="#000"/>
<rect x="740" y="249" width="3" height="80" fill="#ff0000"/>
<rect x="749" y="239" width="1" height="30" fill="#000"/>
<rect x="747" y="251" width="5" height="3" fill="#000"/>
<rect x="748" y="252" width="3" height="1" fill="#00ff00"/>
<rect x="757" y="252" width="1" height="37" fill="#000"/>
<rect x="755" y="254" width="5" height="15" fill="#000"/>
<rect x="756" y="255" width="3" height="13" fill="#00ff00"/>
<rect x="765" y="262" width="1" height="30" fill="#000"/>
<rect x="763" y="275" width="5" height="13" fill="#000"/>
<rect x="764" y="276" width="3" height="11" fill="#00ff00"/>
<rect x="773" y="284" width="1" height="30" fill="#000"/>
<rect x="771" y="288" width="5" height="13" fill="#000"/>
<rect x="772" y="289" width="3" height="11" fill="#00ff00"/>
<rect x="781" y="268" width="1" height="29" fill="#000"/>
<rect x="779" y="279" width="5" height="15" fill="#000"/>
<rect x="780" y="280" width="3" height="13" fill="#ff0000"/>
<rect x="789" y="276" width="1" height="58" fill="#000"/>
<rect x="787" y="279" width="5" height="31" fill="#000"/>
<rect x="788" y="280" width="3" height="29" fill="#00ff00"/>
<rect x="797" y="298" width="1" height="61" fill="#000"/>
<rect x="795" y="309" width="5" height="28" fill="#000"/>
<rect x="796" y="310" width="3" height="26" fill="#ff0000"/>
<rect x="805" y="307" width="1" height="35" fill="#000"/>
<rect x="803" y="308" width="5" height="22" fill="#000"/>
<rect x="804" y="309" width="3" height="20" fill="#00ff00"/>
<rect x="813" y="273" width="1" height="74" fill="#000"/>
<rect x="811" y="317" width="5" height="13" fill="#000"/>
<rect x="812" y="318" width="3" height="11" fill="#ff0000"/>
<rect x="821" y="290" width="1" height="45" fill="#000"/>
<rect x="819" y="305" width="5" height="12" fill="#000"/>
<rect x="820" y="306" width="3" height="10" fill="#ff0000"/>
<rect x="829" y="291" width="1" height="57" fill="#000"/>
<rect x="827" y="305" width="5" height="26" fill="#000"/>
<rect x="828" y="306" width="3" height="24" fill="#00ff00"/>
<rect x="837" y="329" width="1" height="56" fill="#000"/>
<rect x="835" y="329" width="5" height="54" fill="#000"/>
<rect x="836" y="330" width="3" height="52" fill="#00ff00"/>
<rect x="845" y="388" width="1" height="40" fill="#000"/>
<rect x="843" y="393" width="5" height="6" fill="#000"/>
<rect x="844" y="394" width="3" height="4" fill="#00ff00"/>
<rect x="853" y="385" width="1" height="64" fill="#000"/>
<rect x="851" y="399" width="5" height="46" fill="#000"/>
<rect x="852" y="400" width="3" height="44" fill="#00ff00"/>
<rect x="861" y="442" width="1" height="37" fill="#000"/>
<rect x="859" y="453" width="5" height="14" fill="#000"/>
<rect x="860" y="454" width="3" height="12" fill="#00ff00"/>
<rect x="869" y="449" width="1" height="53" fill="#000"/>
<rect x="867" y="461" width="5" height="7" fill="#000"/>
<rect x="868" y="462" width="3" height="5" fill="#ff0000"/>
<rect x="877" y="459" width="1" height="45" fill="#000"/>
<rect x="875" y="466" width="5" height="8" fill="#000"/>
<rect x="876" y="467" width="3" height="6" fill="#00ff00"/>
<rect x="885" y="438" width="1" height="35" fill="#000"/>
<rect x="883" y="452" width="5" height="21" fill="#000"/>
<rect x="884" y="453" width="3" height="19" fill="#ff0000"/>
<rect x="893" y="425" width="1" height="71" fill="#000"/>
<rect x="891" y="427" width="5" height="56" fill="#000"/>
<rect x="892" y="428" width="3" height="54" fill="#00ff00"/>
<rect x="901" y="465" width="1" height="30" fill="#000"/>
<rect x="899" y="472" width="5" height="11" fill="#000"/>
<rect x="900" y="473" width="3" height="9" fill="#ff0000"/>
<rect x="909" y="456" width="1" height="69" fill="#000"/>
<rect x="907" y="475" width="5" height="42" fill="#000"/>
<rect x="908" y="476" width="3" height="40" fill="#00ff00"/>
<rect x="917" y="465" width="1" height="71" fill="#000"/>
<rect x="915" y="471" width="5" height="46" fill="#000"/>
<rect x="916" y="472" width="3" height="44" fill="#ff0000"/>
<rect x="925" y="483" width="1" height="46" fill="#000"/>
<rect x="923" y="489" width="5" height="34" fill="#000"/>
<rect x="924" y="490" width="3" height="32" fill="#00ff00"/>
<rect x="933" y="503" width="1" height="39" fill="#000"/>
<rect x="931" y="516" width="5" height="9" fill="#000"/>
<rect x="932" y="517" width="3" height="7" fill="#ff0000"/>
<rect x="941" y="465" width="1" height="61" fill="#000"/>
<rect x="939" y="479" width="5" height="43" fill="#000"/>
<rect x="940" y="480" width="3" height="41" fill="#ff0000"/>
<rect x="949" y="466" width="1" height="50" fill="#000"/>
<rect x="947" y="479" width="5" height="28" fill="#000"/>
<rect x="948" y="480" width="3" height="26" fill="#00ff00"/>
<rect x="957" y="431" width="1" height="48" fill="#000"/>
<rect x="955" y="438" width="5" height="41" fill="#000"/>
<rect x="956" y="439" width="3" height="39" fill="#ff0000"/>
<rect x="965" y="424" width="1" height="26" fill="#000"/>
<rect x="963" y="438" width="5" height="2" fill="#000"/>
<rect x="973" y="439" width="1" height="23" fill="#000"/>
<rect x="971" y="439" width="5" height="18" fill="#000"/>
<rect x="972" y="440" width="3" height="16" fill="#00ff00"/>
<rect x="981" y="453" width="1" height="25" fill="#000"/>
<rect x="979" y="456" width="5" height="7" fill="#000"/>
<rect x="980" y="457" width="3" height="5" fill="#00ff00"/>
<rect x="989" y="423" width="1" height="65" fill="#000"/>
<rect x="987" y="456" width="5" height="11" fill="#000"/>
<rect x="988" y="457" width="3" height="9" fill="#ff0000"/>
<rect x="997" y="453" width="1" height="64" fill="#000"/>
<rect x="995" y="456" width="5" height="56" fill="#000"/>
<rect x="996" y="457" width="3" height="54" fill="#00ff00"/>
<rect x="1005" y="485" width="1" height="44" fill="#000"/>
<rect x="1003" y="495" width="5" height="23" fill="#000"/>
<rect x="1004" y="496" width="3" height="21" fill="#00ff00"/>
<rect x="1013" y="500" width="1" height="44" fill="#000"/>
<rect x="1011" y="515" width="5" height="13" fill="#000"/>
<rect x="1012" y="516" width="3" height="11" fill="#00ff00"/>
<rect x="1021" y="501" width="1" height="45" fill="#000"/>
<rect x="1019" y="520" width="5" height="2" fill="#000"/>
<rect x="1029" y="462" width="1" height="67" fill="#000"/>
<rect x="1027" y="489" width="5" height="31" fill="#000"/>
<rect x="1028" y="490" width="3" height="29" fill="#ff0000"/>
<rect x="1037" y="467" width="1" height="27" fill="#000"/>
<rect x="1035" y="479" width="5" height="8" fill="#000"/>
<rect x="1036" y="480" width="3" height="6" fill="#00ff00"/>
<rect x="1045" y="459" width="1" height="31" fill="#000"/>
<rect x="1043" y="465" width="5" height="21" fill="#000"/>
<rect x="1044" y="466" width="3" height="19" fill="#ff0000"/>
<rect x="1053" y="465" width="1" height="23" fill="#000"/>
<rect x="1051" y="471" width="5" height="8" fill="#000"/>
<rect x="1052" y="472" width="3" height="6" fill="#ff0000"/>
<rect x="1061" y="431" width="1" height="48" fill="#000"/>
<rect x="1059" y="461" width="5" height="10" fill="#000"/>
<rect x="1060" y="462" width="3" height="8" fill="#ff0000"/>
<rect x="1069" y="442" width="1" height="27" fill="#000"/>
<rect x="1067" y="445" width="5" height="23" fill="#000"/>
<rect x="1068" y="446" width="3" height="21" fill="#ff0000"/>
<rect x="1077" y="418" width="1" height="35" fill="#000"/>
<rect x="1075" y="425" width="5" height="19" fill="#000"/>
<rect x="1076" y="426" width="3" height="17" fill="#ff0000"/>
<rect x="1085" y="391" width="1" height="28" fill="#000"/>
<rect x="1083" y="395" width="5" height="21" fill="#000"/>
<rect x="1084" y="396" width="3" height="19" fill="#ff0000"/>
<rect x="1093" y="390" width="1" height="41" fill="#000"/>
<rect x="1091" y="394" width="5" height="34" fill="#000"/>
<rect x="1092" y="395" width="3" height="32" fill="#00ff00"/>
<rect x="1101" y="395" width="1" height="23" fill="#000"/>
<rect x="1099" y="399" width="5" height="13" fill="#000"/>
<rect x="1100" y="400" width="3" height="11" fill="#ff0000"/>
<rect x="1109" y="345" width="1" height="58" fill="#000"/>
<rect x="1107" y="346" width="5" height="54" fill="#000"/>
<rect x="1108" y="347" width="3" height="52" fill="#ff0000"/>
<rect x="1117" y="353" width="1" height="25" fill="#000"/>
<rect x="1115" y="358" width="5" height="20" fill="#000"/>
<rect x="1116" y="359" width="3" height="18" fill="#ff0000"/>
<rect x="1125" y="321" width="1" height="45" fill="#000"/>
<rect x="1123" y="337" width="5" height="21" fill="#000"/>
<rect x="1124" y="338" width="3" height="19" fill="#ff0000"/>
<rect x="1133" y="341" width="1" height="40" fill="#000"/>
<rect x="1131" y="343" width="5" height="31" fill="#000"/>
<rect x="1132" y="344" width="3" height="29" fill="#00ff00"/>
<rect x="1141" y="366" width="1" height="17" fill="#000"/>
<rect x="1139" y="375" width="5" height="3" fill="#000"/>
<rect x="1140" y="376" width="3" height="1" fill="#ff0000"/>
<rect x="1149" y="361" width="1" height="28" fill="#000"/>
<rect x="1147" y="371" width="5" height="6" fill="#000"/>
<rect x="1148" y="372" width="3" height="4" fill="#ff0000"/>
<rect x="1157" y="360" width="1" height="34" fill="#000"/>
<rect x="1155" y="370" width="5" height="17" fill="#000"/>
<rect x="1156" y="371" width="3" height="15" fill="#00ff00"/>
<rect x="1165" y="390" width="1" height="33" fill="#000"/>
<rect x="1163" y="406" width="5" height="7" fill="#000"/>
<rect x="1164" y="407" width="3" height="5" fill="#00ff00"/>
<rect x="1173" y="409" width="1" height="54" fill="#000"/>
<rect x="1171" y="412" width="5" height="50" fill="#000"/>
<rect x="1172" y="413" width="3" height="48" fill="#00ff00"/>
<rect x="1181" y="482" width="1" height="51" fill="#000"/>
<rect x="1179" y="487" width="5" height="8" fill="#000"/>
<rect x="1180" y="488" width="3" height="6" fill="#00ff00"/>
<rect x="1189" y="493" width="1" height="36" fill="#000"/>
<rect x="1187" y="493" width="5" height="20" fill="#000"/>
<rect x="1188" y="494" width="3" height="18" fill="#00ff00"/>
<rect x="1197" y="494" width="1" height="32" fill="#000"/>
<rect x="1195" y="495" width="5" height="12" fill="#000"/>
<rect x="1196" y="496" width="3" height="10" fill="#ff0000"/>
<rect x="1205" y="469" width="1" height="29" fill="#000"/>
<rect x="1203" y="482" width="5" height="14" fill="#000"/>
<rect x="1204" y="483" width="3" height="12" fill="#ff0000"/>
<rect x="1213" y="482" width="1" height="44" fill="#000"/>
<rect x="1211" y="493" width="5" height="13" fill="#000"/>
<rect x="1212" y="494" width="3" height="11" fill="#00ff00"/>
<rect x="1221" y="473" width="1" height="40" fill="#000"/>
<rect x="1219" y="477" width="5" height="28" fill="#000"/>
<rect x="1220" y="478" width="3" height="26" fill="#ff0000"/>
<rect x="1229" y="470" width="1" height="44" fill="#000"/>
<rect x="1227" y="470" width="5" height="36" fill="#000"/>
<rect x="1228" y="471" width="3" height="34" fill="#00ff00"/>
<rect x="1237" y="478" width="1" height="32" fill="#000"/>
<rect x="1235" y="497" width="5" height="9" fill="#000"/>
<rect x="1236" y="498" width="3" height="7" fill="#ff0000"/>
<rect x="1245" y="448" width="1" height="60" fill="#000"/>
<rect x="1243" y="448" width="5" height="55" fill="#000"/>
<rect x="1244" y="449" width="3" height="53" fill="#ff0000"/>
<rect x="1253" y="443" width="1" height="30" fill="#000"/>
<rect x="1251" y="450" width="5" height="20" fill="#000"/>
<rect x="1252" y="451" width="3" height="18" fill="#00ff00"/>
<rect x="1261" y="394" width="1" height="64" fill="#000"/>
<rect x="1259" y="396" width="5" height="59" fill="#000"/>
<rect x="1260" y="397" width="3" height="57" fill="#ff0000"/>
<rect x="1269" y="394" width="1" height="23" fill="#000"/>
<rect x="1267" y="396" width="5" height="17" fill="#000"/>
<rect x="1268" y="397" width="3" height="15" fill="#00ff00"/>
<rect x="1277" y="399" width="1" height="23" fill="#000"/>
<rect x="1275" y="405" width="5" height="13" fill="#000"/>
<rect x="1276" y="406" width="3" height="11" fill="#ff0000"/>
<rect x="1285" y="399" width="1" height="23" fill="#000"/>
<rect x="1283" y="402" width="5" height="4" fill="#000"/>
<rect x="1284" y="403" width="3" height="2" fill="#ff0000"/>
</g>
<g shape-rendering="crispEdges">
<rect x="5" y="392" width="1617" height="3" fill="#000"/>
<rect x="5" y="462" width="1617" height="3" fill="#000"/>
<rect x="5" y="538" width="1617" height="3" fill="#0000cd"/>
</g>
<g clip-path="url(#m)">
<g shape-rendering="crispEdges" fill="#00ff00">
<rect x="4" y="625" width="3" height="4"/>
<rect x="12" y="626" width="3" height="3"/>
<rect x="20" y="629" width="3" height="9"/>
<rect x="28" y="629" width="3" height="21"/>
<rect x="36" y="629" width="3" height="28"/>
<rect x="44" y="629" width="3" height="36"/>
<rect x="52" y="629" width="3" height="42"/>
<rect x="60" y="629" width="3" height="54"/>
<rect x="68" y="629" width="3" height="64"/>
<rect x="76" y="629" width="3" height="65"/>
<rect x="84" y="629" width="3" height="64"/>
<rect x="92" y="629" width="3" height="68"/>
<rect x="100" y="629" width="3" height="68"/>
<rect x="108" y="629" width="3" height="67"/>
<rect x="116" y="629" width="3" height="66"/>
<rect x="124" y="629" width="3" height="68"/>
<rect x="132" y="629" width="3" height="74"/>
<rect x="140" y="629" width="3" height="64"/>
<rect x="148" y="629" width="3" height="65"/>
<rect x="156" y="629" width="3" height="65"/>
<rect x="164" y="629" width="3" height="67"/>
<rect x="172" y="629" width="3" height="65"/>
<rect x="180" y="629" width="3" height="59"/>
<rect x="188" y="629" width="3" height="51"/>
<rect x="196" y="629" width="3" height="44"/>
<rect x="204" y="629" width="3" height="35"/>
<rect x="212" y="629" width="3" height="24"/>
<rect x="220" y="629" width="3" height="16"/>
<rect x="228" y="629" width="3" height="9"/>
<rect x="236" y="629" width="3" height="10"/>
<rect x="244" y="629" width="3" height="8"/>
<rect x="252" y="629" width="3" height="7"/>
<rect x="260" y="629" width="3" height="8"/>
<rect x="268" y="629" width="3" height="5"/>
<rect x="276" y="629" width="3" height="5"/>
<rect x="284" y="629" width="3" height="6"/>
<rect x="292" y="626" width="3" height="3"/>
<rect x="300" y="620" width="3" height="9"/>
<rect x="308" y="613" width="3" height="16"/>
<rect x="316" y="604" width="3" height="25"/>
<rect x="324" y="597" width="3" height="32"/>
<rect x="332" y="592" width="3" height="37"/>
<rect x="340" y="585" width="3" height="44"/>
<rect x="348" y="582" width="3" height="47"/>
<rect x="356" y="581" width="3" height="48"/>
<rect x="364" y="575" width="3" height="54"/>
<rect x="372" y="571" width="3" height="58"/>
<rect x="380" y="571" width="3" height="58"/>
<rect x="388" y="572" width="3" height="57"/>
<rect x="396" y="574" width="3" height="55"/>
<rect x="404" y="577" width="3" height="52"/>
<rect x="412" y="580" width="3" height="49"/>
<rect x="420" y="584" width="3" height="45"/>
<rect x="428" y="589" width="3" height="40"/>
<rect x="436" y="596" width="3" height="33"/>
<rect x="444" y="599" width="3" height="30"/>
<rect x="452" y="601" width="3" height="28"/>
<rect x="460" y="597" width="3" height="32"/>
<rect x="468" y="591" width="3" height="38"/>
<rect x="476" y="585" width="3" height="44"/>
<rect x="484" y="581" width="3" height="48"/>
<rect x="492" y="580" width="3" height="49"/>
<rect x="500" y="583" width="3" height="46"/>
<rect x="508" y="591" width="3" height="38"/>
<rect x="516" y="596" width="3" height="33"/>
<rect x="524" y="606" width="3" height="23"/>
<rect x="532" y="620" width="3" height="9"/>
<rect x="540" y="629" width="3" height="6"/>
<rect x="548" y="629" width="3" height="23"/>
<rect x="556" y="629" width="3" height="38"/>
<rect x="564" y="629" width="3" height="51"/>
<rect x="572" y="629" width="3" height="59"/>
<rect x="580" y="629" width="3" height="67"/>
<rect x="588" y="629" width="3" height="71"/>
<rect x="596" y="629" width="3" height="68"/>
<rect x="604" y="629" width="3" height="61"/>
<rect x="612" y="629" width="3" height="54"/>
<rect x="620" y="629" width="3" height="48"/>
<rect x="628" y="629" width="3" height="42"/>
<rect x="636" y="629" width="3" height="40"/>
<rect x="644" y="629" width="3" height="37"/>
<rect x="652" y="629" width="3" height="29"/>
<rect x="660" y="629" width="3" height="21"/>
<rect x="668" y="629" width="3" height="11"/>
<rect x="676" y="629" width="3" height="12"/>
<rect x="684" y="629" width="3" height="18"/>
<rect x="692" y="629" width="3" height="22"/>
<rect x="700" y="629" width="3" height="24"/>
<rect x="708" y="629" width="3" height="28"/>
<rect x="716" y="629" width="3" height="33"/>
<rect x="724" y="629" width="3" height="43"/>
<rect x="732" y="629" width="3" height="50"/>
<rect x="740" y="629" width="3" height="45"/>
<rect x="748" y="629" width="3" height="40"/>
<rect x="756" y="629" width="3" height="38"/>
<rect x="764" y="629" width="3" height="39"/>
<rect x="772" y="629" width="3" height="41"/>
<rect x="780" y="629" width="3" height="42"/>
<rect x="788" y="629" width="3" height="42"/>
<rect x="796" y="629" width="3" height="42"/>
<rect x="804" y="629" width="3" height="45"/>
<rect x="812" y="629" width="3" height="46"/>
<rect x="820" y="629" width="3" height="44"/>
<rect x="828" y="629" width="3" height="45"/>
<rect x="836" y="629" width="3" height="53"/>
<rect x="844" y="629" width="3" height="60"/>
<rect x="852" y="629" width="3" height="71"/>
<rect x="860" y="629" width="3" height="82"/>
<rect x="868" y="629" width="3" height="89"/>
<rect x="876" y="629" width="3" height="95"/>
<rect x="884" y="629" width="3" height="96"/>
<rect x="892" y="629" width="3" height="100"/>
<rect x="900" y="629" width="3" height="100"/>
<rect x="908" y="629" width="3" height="105"/>
<rect x="916" y="629" width="3" height="102"/>
<rect x="924" y="629" width="3" height="105"/>
<rect x="932" y="629" width="3" height="105"/>
<rect x="940" y="629" width="3" height="100"/>
<rect x="948" y="629" width="3" height="98"/>
<rect x="956" y="629" width="3" height="86"/>
<rect x="964" y="629" width="3" height="76"/>
<rect x="972" y="629" width="3" height="69"/>
<rect x="980" y="629" width="3" height="64"/>
<rect x="988" y="629" width="3" height="59"/>
<rect x="996" y="629" width="3" height="61"/>
<rect x="1004" y="629" width="3" height="63"/>
<rect x="1012" y="629" width="3" height="65"/>
<rect x="1020" y="629" width="3" height="65"/>
<rect x="1028" y="629" width="3" height="61"/>
<rect x="1036" y="629" width="3" height="56"/>
<rect x="1044" y="629" width="3" height="48"/>
<rect x="1052" y="629" width="3" height="43"/>
<rect x="1060" y="629" width="3" height="37"/>
<rect x="1068" y="629" width="3" height="30"/>
<rect x="1076" y="629" width="3" height="21"/>
<rect x="1084" y="629" width="3" height="10"/>
<rect x="1092" y="629" width="3" height="6"/>
<rect x="1100" y="626" width="3" height="3"/>
<rect x="1108" y="614" width="3" height="15"/>
<rect x="1116" y="605" width="3" height="24"/>
<rect x="1124" y="596" width="3" height="33"/>
<rect x="1132" y="594" width="3" height="35"/>
<rect x="1140" y="594" width="3" height="35"/>
<rect x="1148" y="593" width="3" height="36"/>
<rect x="1156" y="595" width="3" height="34"/>
<rect x="1164" y="600" width="3" height="29"/>
<rect x="1172" y="611" width="3" height="18"/>
<rect x="1180" y="624" width="3" height="5"/>
<rect x="1188" y="629" width="3" height="9"/>
<rect x="1196" y="629" width="3" height="17"/>
<rect x="1204" y="629" width="3" height="21"/>
<rect x="1212" y="629" width="3" height="27"/>
<rect x="1220" y="629" width="3" height="27"/>
<rect x="1228" y="629" width="3" height="31"/>
<rect x="1236" y="629" width="3" height="33"/>
<rect x="1244" y="629" width="3" height="28"/>
<rect x="1252" y="629" width="3" height="26"/>
<rect x="1260" y="629" width="3" height="14"/>
<rect x="1268" y="629" width="3" height="7"/>
<rect x="1276" y="629" width="3" height="1"/>
<rect x="1284" y="623" width="3" height="6"/>
</g>
<polyline points="4.6,633.8 13.6,629.7 19.9,628.6 29.3,628.6 37.7,632.2 45.4,637.0 53.6,643.0 61.5,650.4 69.5,657.7 77.4,665.2 85.4,672.0 93.5,678.2 101.5,683.4 109.4,687.6 117.4,690.8 125.5,693.5 133.5,695.0 181.4,695.0 189.5,693.3 197.5,690.0 205.4,686.0 213.4,681.8 221.3,676.0 229.5,670.3 237.4,663.6 245.4,656.7 253.3,651.2 261.5,646.2 269.5,641.6 277.4,638.5 285.4,636.4 293.3,634.3 301.5,632.6 309.4,629.7 317.4,626.5 325.4,622.1 333.4,616.5 341.5,610.8 349.5,606.0 357.4,600.4 365.4,594.5 373.6,589.3 381.5,584.7 389.5,581.5 397.4,578.4 405.4,576.3 413.5,575.9 421.5,576.1 429.4,577.2 437.4,579.2 445.5,582.4 453.5,586.2 461.4,589.5 469.4,591.0 501.4,591.0 509.5,590.3 517.5,590.3 525.4,590.5 533.4,592.0 541.3,597.0 549.5,604.0 557.4,613.3 565.4,623.8 573.3,636.8 581.5,647.9 589.5,659.4 597.4,669.4 605.4,676.3 613.3,683.4 621.5,685.5 629.4,685.9 637.4,685.5 645.4,682.5 653.4,678.6 661.5,672.6 669.5,666.4 677.4,661.1 685.4,657.4 693.6,654.2 701.5,652.1 709.5,650.3 717.4,650.3 725.4,652.1 733.5,655.5 741.5,659.2 749.4,662.6 757.4,664.5 765.5,666.6 773.5,668.7 781.4,669.5 805.5,669.5 813.4,669.0 821.4,669.7 829.5,669.9 837.5,672.2 845.4,674.3 853.4,678.3 861.3,682.0 869.5,687.3 877.4,692.9 885.4,698.8 893.3,705.0 901.5,711.3 909.5,717.0 917.4,720.8 925.4,724.9 933.3,728.5 941.5,728.7 957.4,728.7 965.4,725.2 973.4,722.3 981.5,717.0 989.5,713.5 997.4,708.2 1005.4,703.4 1013.6,699.7 1021.5,696.7 1029.5,693.6 1037.4,691.5 1045.4,688.4 1053.5,686.3 1061.5,683.6 1069.4,680.8 1077.4,676.2 1085.5,670.0 1093.5,662.2 1101.4,655.3 1109.4,647.6 1117.5,639.6 1125.5,631.3 1133.4,623.3 1141.4,616.6 1149.5,610.3 1157.5,606.6 1165.4,602.4 1173.4,600.9 1181.3,600.9 1189.5,605.1 1197.4,609.7 1205.4,616.0 1213.3,623.3 1221.5,630.8 1229.5,637.1 1237.4,644.2 1245.4,649.0 1253.3,652.8 1261.5,653.0 1269.4,653.0 1277.4,650.5 1285.3,646.9" fill="none" stroke="#ff0000" stroke-width="2" stroke-linejoin="round" stroke-linecap="round"/>
</g>
<line x1="1298.8" y1="383.5" x2="1331" y2="291" stroke="#ff0000" stroke-width="5.5" stroke-linecap="round"/>
<polygon points="1342.5,260 1319.7,288.5 1342,296.5" fill="#ff0000"/>
<line x1="1299.8" y1="410.5" x2="1342" y2="492" stroke="#00ff00" stroke-width="6" stroke-linecap="round"/>
<polygon points="1357.7,522.3 1331.6,497.2 1352.5,486.3" fill="#00ff00"/>
<ellipse cx="1296" cy="399.4" rx="23.5" ry="25.8" fill="none" stroke="#000" stroke-width="3"/>
<text transform="translate(1628 31.6) scale(1 1.07)">4173.0</text>
<text transform="translate(1628 64.6) scale(1 1.07)">4147.0</text>
<text transform="translate(1628 97.6) scale(1 1.07)">4121.0</text>
<text transform="translate(1628 130.6) scale(1 1.07)">4095.0</text>
<text transform="translate(1628 163.6) scale(1 1.07)">4069.0</text>
<text transform="translate(1628 196.6) scale(1 1.07)">4043.0</text>
<text transform="translate(1628 229.6) scale(1 1.07)">4017.0</text>
<text transform="translate(1628 262.6) scale(1 1.07)">3991.0</text>
<text transform="translate(1628 295.6) scale(1 1.07)">3965.0</text>
<text transform="translate(1628 328.6) scale(1 1.07)">3939.0</text>
<text transform="translate(1628 361.6) scale(1 1.07)">3913.0</text>
<text transform="translate(1628 394.6) scale(1 1.07)">3887.0</text>
<text transform="translate(1628 427.6) scale(1 1.07)">3861.0</text>
<text transform="translate(1628 460.6) scale(1 1.07)">3835.0</text>
<text transform="translate(1628 493.6) scale(1 1.07)">3809.0</text>
<text transform="translate(1628 526.6) scale(1 1.07)">3783.0</text>
<text transform="translate(1628 559.6) scale(1 1.07)">3757.0</text>
<g shape-rendering="crispEdges"><rect x="1624" y="387" width="36" height="21" fill="#000"/><rect x="1624" y="457" width="36" height="11" fill="#000"/><rect x="1624" y="533" width="36" height="11" fill="#0000cd"/></g>
<text transform="translate(1628 395.4) scale(1 1.07)" class="w">3885.6</text>
<text transform="translate(1628 405.6) scale(1 1.07)" class="w">3878.4</text>
<text transform="translate(1628 466) scale(1 1.07)" class="w">3830.0</text>
<text transform="translate(1628 542) scale(1 1.07)" class="w">3770.0</text>
<text transform="translate(1626 572) scale(1 1.07)">31.43</text>
<text transform="translate(1626.3 633) scale(1 1.07)">0.00</text>
<text transform="translate(1626 739) scale(1 1.07)">-53.31</text>
<polygon points="8,11 15,11 11.5,15" fill="#000"/>
<text transform="translate(20.3 16) scale(1 1.07)" textLength="64.4" lengthAdjust="spacing">CHINA300-,H4</text><text transform="translate(91.1 16) scale(1 1.07)" textLength="120.9" lengthAdjust="spacing">3876.2 3880.5 3864.1 3878.4</text>
<text transform="translate(9.8 573.7) scale(1 1.07)" textLength="110" lengthAdjust="spacing">MACD(12,26,9) 2.59 -8.19</text>
<text transform="translate(4 754.7) scale(1 1.07)" style="letter-spacing:0.13px">6 Mar 2023</text>
<text transform="translate(68 754.7) scale(1 1.07)" style="letter-spacing:0.13px">10 Mar 05:00</text>
<text transform="translate(132 754.7) scale(1 1.07)" style="letter-spacing:0.13px">16 Mar 05:00</text>
<text transform="translate(196 754.7) scale(1 1.07)" style="letter-spacing:0.13px">22 Mar 05:00</text>
<text transform="translate(260 754.7) scale(1 1.07)" style="letter-spacing:0.13px">28 Mar 05:00</text>
<text transform="translate(324 754.7) scale(1 1.07)" style="letter-spacing:0.13px">3 Apr 05:00</text>
<text transform="translate(388 754.7) scale(1 1.07)" style="letter-spacing:0.13px">10 Apr 05:00</text>
<text transform="translate(452 754.7) scale(1 1.07)" style="letter-spacing:0.13px">14 Apr 05:00</text>
<text transform="translate(516 754.7) scale(1 1.07)" style="letter-spacing:0.13px">20 Apr 05:00</text>
<text transform="translate(580 754.7) scale(1 1.07)" style="letter-spacing:0.13px">26 Apr 05:00</text>
<text transform="translate(644 754.7) scale(1 1.07)" style="letter-spacing:0.13px">5 May 05:00</text>
<text transform="translate(708 754.7) scale(1 1.07)" style="letter-spacing:0.13px">11 May 05:00</text>
<text transform="translate(772 754.7) scale(1 1.07)" style="letter-spacing:0.13px">17 May 05:00</text>
<text transform="translate(836 754.7) scale(1 1.07)" style="letter-spacing:0.13px">23 May 05:00</text>
<text transform="translate(900 754.7) scale(1 1.07)" style="letter-spacing:0.13px">29 May 05:00</text>
<text transform="translate(964 754.7) scale(1 1.07)" style="letter-spacing:0.13px">2 Jun 05:00</text>
<text transform="translate(1028 754.7) scale(1 1.07)" style="letter-spacing:0.13px">8 Jun 05:00</text>
<text transform="translate(1092 754.7) scale(1 1.07)" style="letter-spacing:0.13px">14 Jun 05:00</text>
<text transform="translate(1156 754.7) scale(1 1.07)" style="letter-spacing:0.13px">20 Jun 05:00</text>
<text transform="translate(1220 754.7) scale(1 1.07)" style="letter-spacing:0.13px">28 Jun 05:00</text>
<text transform="translate(1284 754.7) scale(1 1.07)" style="letter-spacing:0.13px">4 Jul 05:00</text>
</svg></body></html>
